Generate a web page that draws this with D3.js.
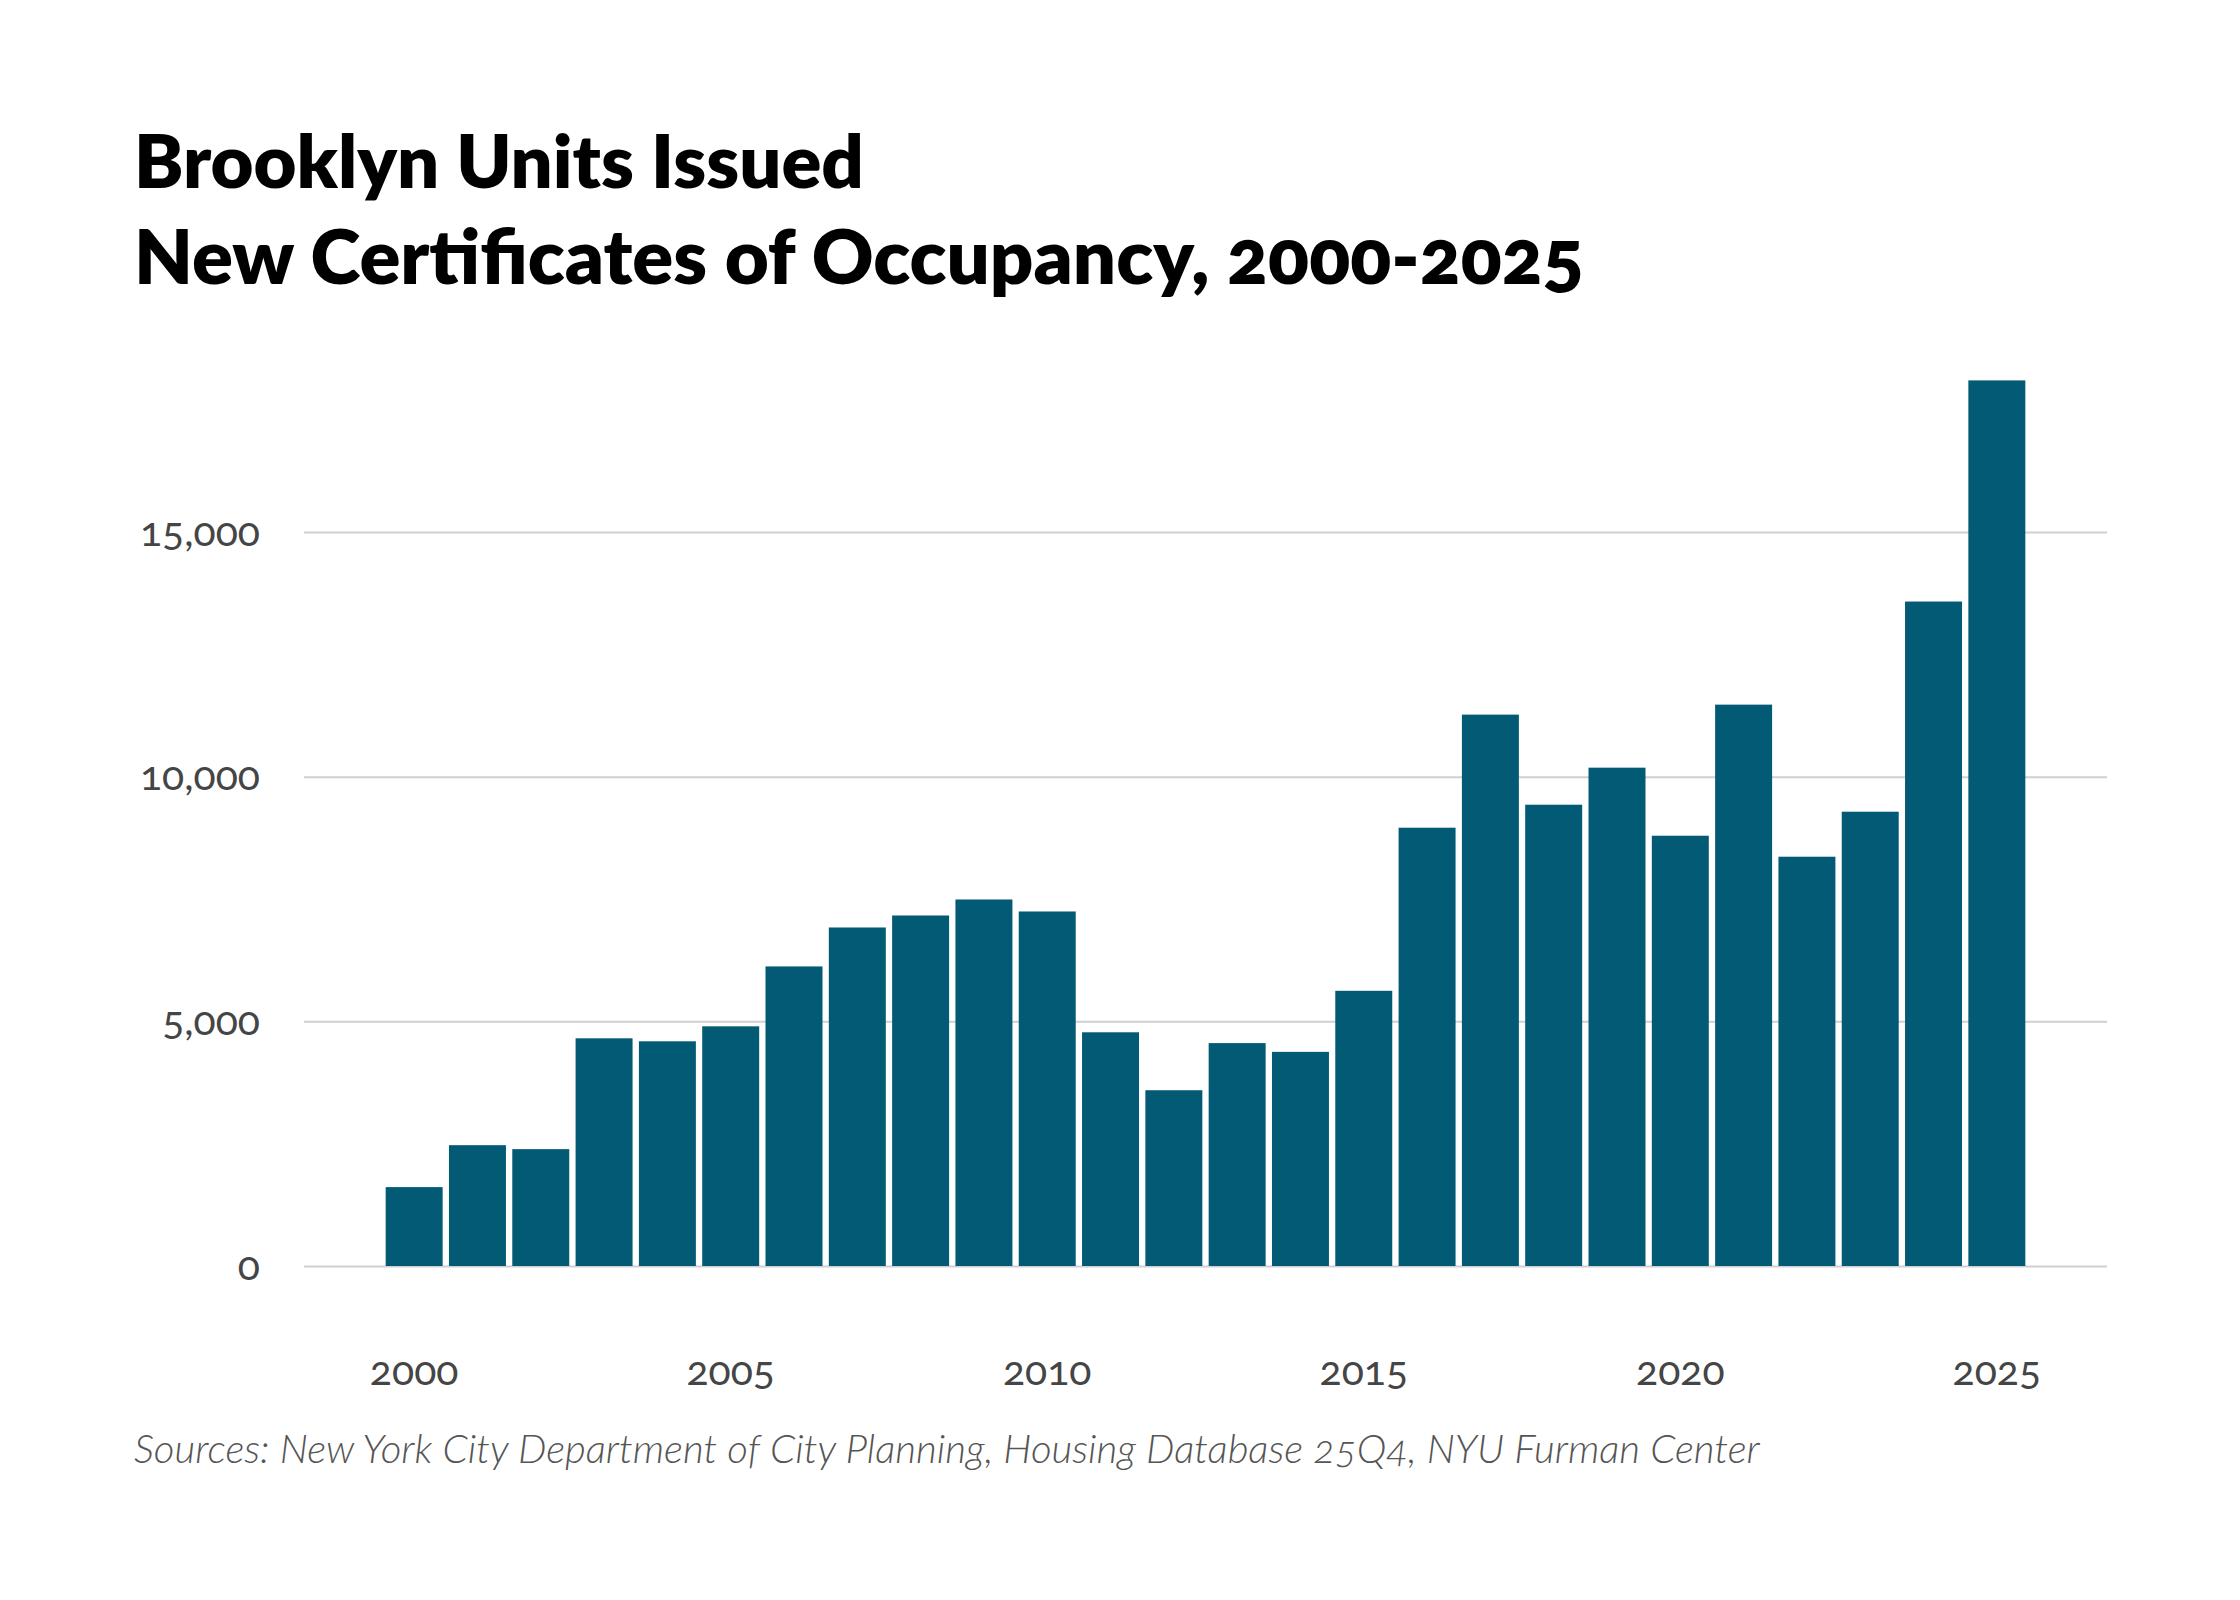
<!DOCTYPE html>
<html>
<head>
<meta charset="utf-8">
<script src="https://cdn.jsdelivr.net/npm/d3@7"></script>
<style>
  body { margin: 0; background: #fff; }
  svg { font-family: Lato, "Noto Sans", sans-serif; font-variant-numeric: oldstyle-nums; }
  .title { font-weight: 800; fill: #000; }
  .tick text { fill: #454545; font-size: 41px; }
  .tick line { stroke: #d0d0d0; stroke-width: 2; }
  .source { font-style: italic; font-weight: 300; fill: #555; }
</style>
</head>
<body>
<script>
var years = [2000, 2001, 2002, 2003, 2004, 2005, 2006, 2007, 2008, 2009, 2010, 2011, 2012,
             2013, 2014, 2015, 2016, 2017, 2018, 2019, 2020, 2021, 2022, 2023, 2024, 2025];
var units = [1612, 2469, 2388, 4653, 4592, 4898, 6122, 6918, 7163, 7490, 7245, 4776, 3592,
             4555, 4376, 5624, 8957, 11268, 9427, 10184, 8793, 11472, 8364, 9284, 13579, 18098];
var yTicks = [0, 5000, 10000, 15000];
var xTicks = [2000, 2005, 2010, 2015, 2020, 2025];
var titleLines = ["Brooklyn Units Issued", "New Certificates of Occupancy, 2000-2025"];
var sourceText = "Sources: New York City Department of City Planning, Housing Database 25Q4, NYU Furman Center";

var width = 2240, height = 1600;
var plot = {left: 304, right: 2107, top: 532, bottom: 1266};

var svg = d3.select("body").append("svg")
    .attr("width", width)
    .attr("height", height);

svg.append("rect").attr("width", width).attr("height", height).attr("fill", "#fff");

// shrink/grow a text until it spans the wanted width
function fit(sel, w) {
  var len = sel.node().getComputedTextLength();
  var fs = parseFloat(sel.style("font-size"));
  sel.style("font-size", (fs * w / len) + "px");
}

var t1 = svg.append("text").attr("class", "title").attr("x", 134).attr("y", 188)
  .style("font-size", "64px").text(titleLines[0]);
var t2 = svg.append("text").attr("class", "title").attr("x", 134).attr("y", 284)
  .style("font-size", "64px").text(titleLines[1]);
fit(t1, 730);
fit(t2, 1450);

var x = d3.scaleBand()
    .domain(years)
    .range([plot.left, plot.right])
    .paddingInner(0.1)
    .paddingOuter(1.29);

var y = d3.scaleLinear()
    .domain([0, 15000])
    .range([plot.bottom, plot.top]);

// gridlines + y labels
var yAxis = svg.append("g")
    .attr("transform", "translate(" + plot.left + ",0)")
    .call(d3.axisLeft(y)
      .tickValues(yTicks)
      .tickFormat(d3.format(","))
      .tickSize(-(plot.right - plot.left))
      .tickPadding(44))
    .attr("font-family", null).attr("font-size", null);
yAxis.select(".domain").remove();
yAxis.selectAll(".tick text").attr("dy", 13);

svg.append("g").selectAll("rect")
  .data(years)
  .join("rect")
    .attr("x", d => x(d))
    .attr("y", (d, i) => y(units[i]))
    .attr("width", x.bandwidth())
    .attr("height", (d, i) => y(0) - y(units[i]))
    .attr("fill", "#025a75");

var xAxis = svg.append("g")
    .attr("transform", "translate(0,1385)")
    .call(d3.axisBottom(x).tickValues(xTicks).tickSize(0))
    .attr("font-family", null).attr("font-size", null);
xAxis.select(".domain").remove();
xAxis.selectAll(".tick text").attr("y", 0).attr("dy", 0);

var src = svg.append("text").attr("class", "source").attr("x", 134).attr("y", 1463)
  .style("font-size", "35px").text(sourceText);
fit(src, 1626);
</script>
</body>
</html>
